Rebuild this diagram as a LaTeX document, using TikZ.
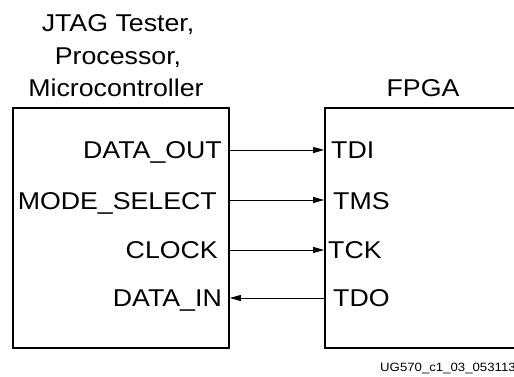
\documentclass[tikz,border=0pt]{standalone}
\usepackage{fontspec}
\setmainfont{Liberation Sans}[FakeStretch=1.1]
\usetikzlibrary{arrows.meta}
\begin{document}
\begin{tikzpicture}[x=1pt,y=-1pt,
  box/.style={draw,line width=1.8pt,minimum height=240pt,inner sep=0pt},
  lbl/.style={font=\fontsize{24.3}{28}\selectfont,inner sep=0pt},
  sig/.style={line width=0.9pt,-{Stealth[length=11pt,width=6pt,inset=0pt]}}]
\useasboundingbox (0,0) rectangle (514,377);
\node[box,minimum width=216pt] (lb) at (121,228) {};
\node[box,minimum width=200pt] (rb) at (425,228) {};
\node[lbl,align=center,anchor=base] (t1) at (118,32) {JTAG Tester,};
\node[lbl,align=center,anchor=base] (t2) at (118,65) {Processor,};
\node[lbl,align=center,anchor=base] (t3) at (116,97) {Microcontroller};
\node[lbl,anchor=base] (fpga) at (423,97) {FPGA};
\node[lbl,anchor=base east] (dout) at (222,159) {DATA\_OUT};
\node[lbl,anchor=base east] (mode) at (217,209) {MODE\_SELECT};
\node[lbl,anchor=base east] (clk) at (218,258) {CLOCK};
\node[lbl,anchor=base east] (din) at (222,306) {DATA\_IN};
\node[lbl,anchor=base west] (tdi) at (331,159) {TDI};
\node[lbl,anchor=base west] (tms) at (333,209) {TMS};
\node[lbl,anchor=base west] (tck) at (328,258) {TCK};
\node[lbl,anchor=base west] (tdo) at (333,306) {TDO};
\node[font=\fontsize{12}{15}\selectfont,anchor=base west,inner sep=0pt] (fig) at (380,371) {UG570\_c1\_03\_053113};
\coordinate (a1) at (229,150); \coordinate (b1) at (325,150);
\coordinate (a2) at (229,200); \coordinate (b2) at (325,200);
\coordinate (a3) at (229,250); \coordinate (b3) at (325,250);
\coordinate (a4) at (229,298); \coordinate (b4) at (325,298);
\draw[sig] (lb.east |- a1) -- (rb.west |- b1);
\draw[sig] (lb.east |- a2) -- (rb.west |- b2);
\draw[sig] (lb.east |- a3) -- (rb.west |- b3);
\draw[sig] (rb.west |- b4) -- (lb.east |- a4);
\end{tikzpicture}
\end{document}
